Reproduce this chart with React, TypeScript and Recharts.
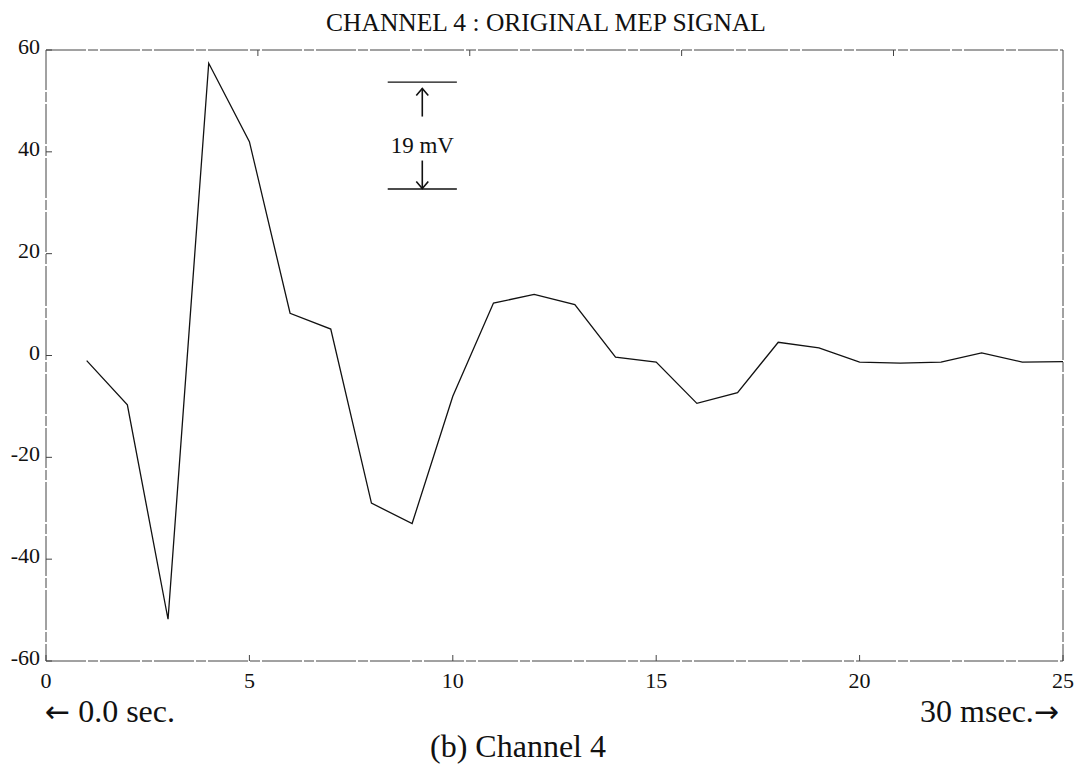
import { LineChart, Line, XAxis, YAxis, ReferenceLine, ReferenceDot } from 'recharts';

// Campioni del canale 4 (ampiezza in mV, un campione per passo)
const CAMPIONI = [1, 2, 3, 4, 5, 6, 7, 8, 9, 10, 11, 12, 13, 14, 15, 16, 17, 18, 19, 20, 21, 22, 23, 24, 25];
const SEGNALE_MV = [
  -1, -9.7, -51.8, 57.4, 42, 8.3, 5.2, -29, -33, -8, 10.3, 12, 10, -0.3, -1.3, -9.4, -7.3, 2.6, 1.5, -1.3,
  -1.5, -1.3, 0.5, -1.3, -1.2,
];

const X_TICKS = [0, 5, 10, 15, 20, 25];
const Y_TICKS = [-60, -40, -20, 0, 20, 40, 60];

// Barra di scala: estremi verticali e tratto orizzontale
const SCALA_Y = [53.7, 32.7];
const SCALA_X = [8.4, 10.1];
const SCALA_LABEL = '19 mV';

const TITOLO = 'CHANNEL 4 : ORIGINAL MEP SIGNAL';
const INIZIO = '0.0 sec.';
const FINE = '30 msec.';
const DIDASCALIA = '(b) Channel 4';

const FONT = '"Liberation Serif", "Times New Roman", serif';
const FONT_FRECCE = '"DejaVu Sans", sans-serif';
const BORDO = '#444';
const TRATTEGGIO = '40 2 10 2';

function TickBasso({ x, y, payload }: any) {
  return (
    <g>
      <line x1={x} x2={x} y1={y} y2={y - 6} stroke={BORDO} />
      <text x={x} y={y + 27} textAnchor="middle" fontSize={22} fontFamily={FONT} fill="#111">
        {payload.value}
      </text>
    </g>
  );
}

function TickSinistra({ x, y, payload }: any) {
  return (
    <g>
      <line x1={x} x2={x + 6} y1={y} y2={y} stroke={BORDO} />
      <text x={x - 6} y={y + 4} textAnchor="end" fontSize={22} fontFamily={FONT} fill="#111">
        {payload.value}
      </text>
    </g>
  );
}

function TickAlto({ x, y }: any) {
  return <line x1={x} x2={x} y1={y} y2={y + 6} stroke={BORDO} />;
}

function TickDestra({ x, y }: any) {
  return <line x1={x} x2={x - 6} y1={y} y2={y} stroke={BORDO} />;
}

// Frecce e testo della barra di scala, centrati sul punto medio
function EtichettaScala({ viewBox }: any) {
  const cx = viewBox.x;
  const cy = viewBox.y;
  return (
    <g stroke="#111" strokeWidth={1.6} fill="none">
      <line x1={cx} x2={cx} y1={cy - 47} y2={cy - 19} />
      <polyline points={`${cx - 6},${cy - 40} ${cx},${cy - 47} ${cx + 6},${cy - 40}`} />
      <text
        x={cx}
        y={cy + 17}
        textAnchor="middle"
        fontSize={23}
        fontFamily={FONT}
        fill="#111"
        stroke="none"
      >
        {SCALA_LABEL}
      </text>
      <line x1={cx} x2={cx} y1={cy + 25} y2={cy + 53} />
      <polyline points={`${cx - 6},${cy + 46} ${cx},${cy + 53} ${cx + 6},${cy + 46}`} />
    </g>
  );
}

export function SegnaleMep() {
  const data = CAMPIONI.map((t, i) => ({ t, mv: SEGNALE_MV[i] }));
  const xMedio = (SCALA_X[0] + SCALA_X[1]) / 2;
  const yMedio = (SCALA_Y[0] + SCALA_Y[1]) / 2;

  return (
    <div style={{ position: 'absolute', left: 0, top: 0, width: 1080, height: 768, background: '#fff' }}>
      {/* gli assi occupano 1px ciascuno: i margini sono ridotti di conseguenza */}
      <LineChart width={1080} height={768} data={data} margin={{ top: 49, right: 16, bottom: 106, left: 45 }}>
        <XAxis
          dataKey="t"
          type="number"
          domain={[0, 25]}
          ticks={X_TICKS}
          height={1}
          tickSize={0}
          tickMargin={0}
          tickLine={false}
          tick={<TickBasso />}
          axisLine={{ stroke: BORDO, strokeDasharray: TRATTEGGIO }}
        />
        <XAxis
          xAxisId="alto"
          orientation="top"
          type="number"
          domain={[0, 25]}
          ticks={X_TICKS.slice(1, -1)}
          height={1}
          tickSize={0}
          tickMargin={0}
          tickLine={false}
          tick={<TickAlto />}
          axisLine={{ stroke: BORDO, strokeDasharray: TRATTEGGIO }}
        />
        <YAxis
          type="number"
          domain={[-60, 60]}
          ticks={Y_TICKS}
          width={1}
          tickSize={0}
          tickMargin={0}
          tickLine={false}
          tick={<TickSinistra />}
          axisLine={{ stroke: BORDO, strokeDasharray: TRATTEGGIO }}
        />
        <YAxis
          yAxisId="destra"
          orientation="right"
          type="number"
          domain={[-60, 60]}
          ticks={Y_TICKS.slice(1, -1)}
          width={1}
          tickSize={0}
          tickMargin={0}
          tickLine={false}
          tick={<TickDestra />}
          axisLine={{ stroke: BORDO, strokeDasharray: TRATTEGGIO }}
        />
        <ReferenceLine
          segment={[
            { x: SCALA_X[0], y: SCALA_Y[0] },
            { x: SCALA_X[1], y: SCALA_Y[0] },
          ]}
          stroke="#111"
          strokeWidth={1.4}
        />
        <ReferenceLine
          segment={[
            { x: SCALA_X[0], y: SCALA_Y[1] },
            { x: SCALA_X[1], y: SCALA_Y[1] },
          ]}
          stroke="#111"
          strokeWidth={1.4}
        />
        <ReferenceDot x={xMedio} y={yMedio} r={0} fill="none" stroke="none" label={<EtichettaScala />} />
        <Line
          type="linear"
          dataKey="mv"
          stroke="#111"
          strokeWidth={1.3}
          dot={false}
          isAnimationActive={false}
        />
      </LineChart>
      <svg
        width={1080}
        height={768}
        style={{ position: 'absolute', left: 0, top: 0, pointerEvents: 'none' }}
        fontFamily={FONT}
        fill="#111"
      >
        <text x={546} y={31} textAnchor="middle" fontSize={25.5}>
          {TITOLO}
        </text>
        <text x={45} y={722} fontSize={32}>
          <tspan fontFamily={FONT_FRECCE} fontSize={30}>
            ←
          </tspan>
          <tspan dx={8}>{INIZIO}</tspan>
        </text>
        <text x={1059} y={722} textAnchor="end" fontSize={32}>
          {FINE}
          <tspan fontFamily={FONT_FRECCE} fontSize={30}>
            →
          </tspan>
        </text>
        <text x={518} y={757} textAnchor="middle" fontSize={32}>
          {DIDASCALIA}
        </text>
      </svg>
    </div>
  );
}

export default function App() {
  return <SegnaleMep />;
}
